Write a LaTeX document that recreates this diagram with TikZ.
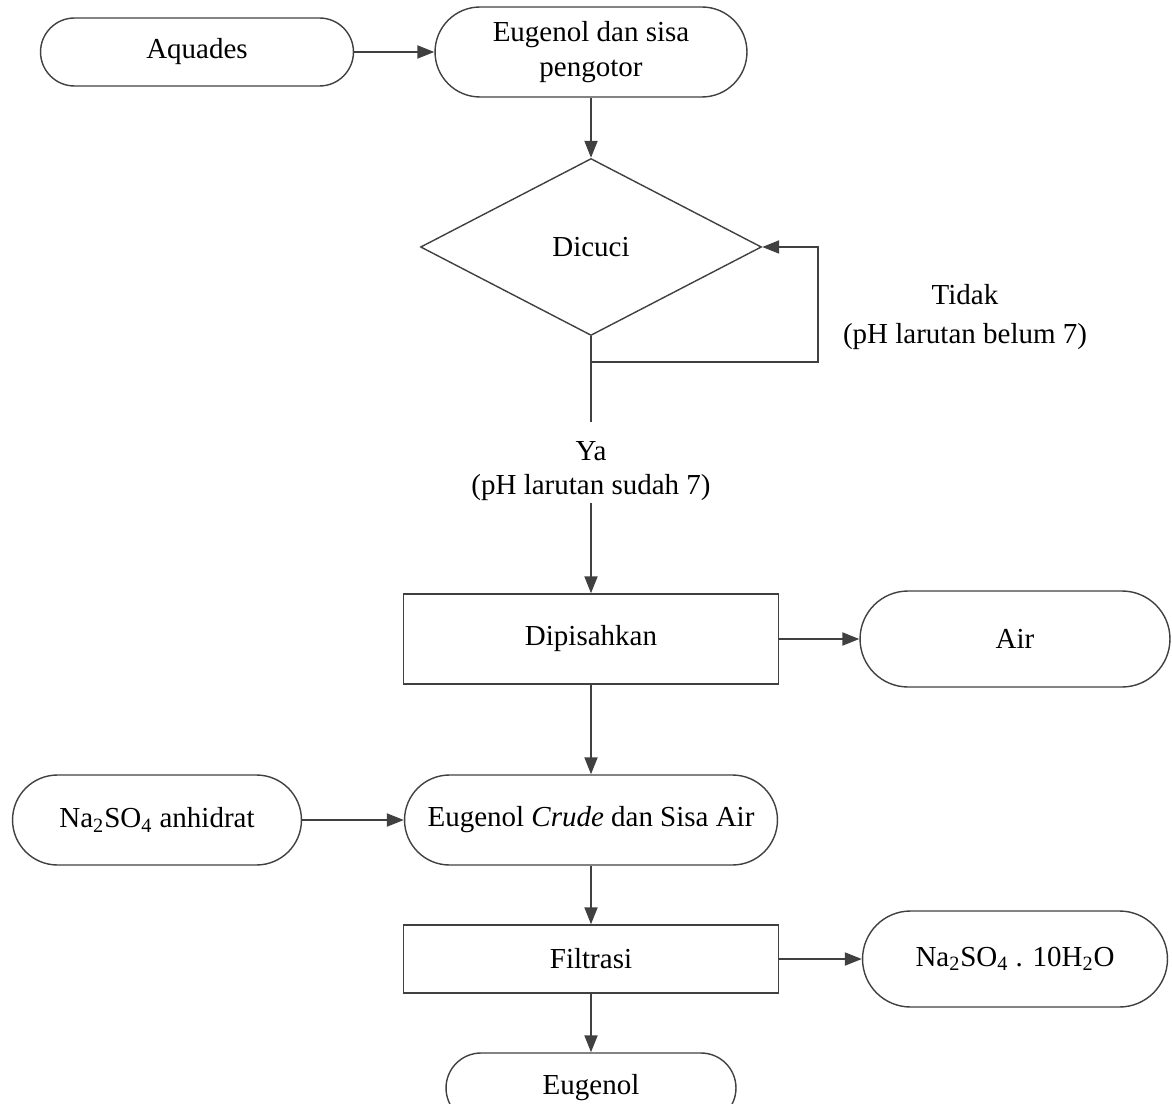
\documentclass[tikz,border=0pt]{standalone}
\usepackage{fontspec}
\setmainfont{Liberation Serif}
\usepackage{xcolor}
\usepackage{tikz}
\usetikzlibrary{arrows.meta,positioning,shapes.geometric,shapes.misc}
\definecolor{ln}{RGB}{64,64,64}

\begin{document}
\begin{tikzpicture}[x=0.02cm,y=-0.02cm,font=\fontsize{16.5}{19}\selectfont,
      term/.style={rounded rectangle,draw=ln,line width=0.8pt,align=center,inner sep=0pt},
      proc/.style={rectangle,draw=ln,line width=0.8pt,align=center,minimum width=7.5cm},
      dec/.style={diamond,draw=ln,line width=0.8pt,aspect=1.93,inner sep=0pt},
      arr/.style={draw=ln,line width=1.1pt,-{Triangle[length=0.34cm,width=0.26cm]}},
      ln/.style={draw=ln,line width=1.1pt}]
    \path[use as bounding box,clip] (0,0) rectangle (1172,1104);
    \node[term,minimum width=6.26cm,minimum height=1.36cm] (Aq) at (197,52)  {Aquades};
    \node[term,minimum width=6.24cm,minimum height=1.8cm]  (Eg) at (591,52)  {Eugenol dan sisa\\[1pt]pengotor};
    \node[dec,minimum width=6.82cm,minimum height=3.54cm]  (Dc) at (591,247) {Dicuci};
    \node[align=center] (Ya) at (591,471) {Ya\\(pH larutan sudah 7)};
    \node[align=center] (Td) at (965,317) {Tidak\\[3pt](pH larutan belum 7)};
    \node[proc,minimum height=1.8cm]  (Dp) at (591,639) {Dipisahkan};
    \node[term,minimum width=6.2cm,minimum height=1.92cm]  (Air) at (1015,639) {Air};
    \node[term,minimum width=5.78cm,minimum height=1.8cm]  (Na) at (157,820)  {Na\textsubscript{2}SO\textsubscript{4} anhidrat};
    \node[term,minimum width=7.46cm,minimum height=1.8cm]  (Ec) at (591,820)  {Eugenol \textit{Crude} dan Sisa Air};
    \node[proc,minimum height=1.36cm] (Fl) at (591,959) {Filtrasi};
    \node[term,minimum width=6.1cm,minimum height=1.92cm]  (Nh) at (1015,959) {Na\textsubscript{2}SO\textsubscript{4} . 10H\textsubscript{2}O};
    \node[term,minimum width=5.8cm,minimum height=1.4cm]   (Eu) at (591,1088) {Eugenol};
    \coordinate (yaT) at (591,422);
    \coordinate (yaB) at (591,503);
    \coordinate (tdA) at (591,362);
    \coordinate (tdB) at (818,362);
    \draw[arr] (Aq.east) -- (Eg.west);
    \draw[arr] (Eg.south) -- (Dc.north);
    \draw[ln]  (Dc.south) -- (yaT);
    \draw[arr] (tdA) -- (tdB) |- (Dc.east);
    \draw[arr] (yaB) -- (Dp.north);
    \draw[arr] (Dp.east) -- (Air.west);
    \draw[arr] (Dp.south) -- (Ec.north);
    \draw[arr] (Na.east) -- (Ec.west);
    \draw[arr] (Ec.south) -- (Fl.north);
    \draw[arr] (Fl.east) -- (Nh.west);
    \draw[arr] (Fl.south) -- (Eu.north);
  \end{tikzpicture}
\end{document}
